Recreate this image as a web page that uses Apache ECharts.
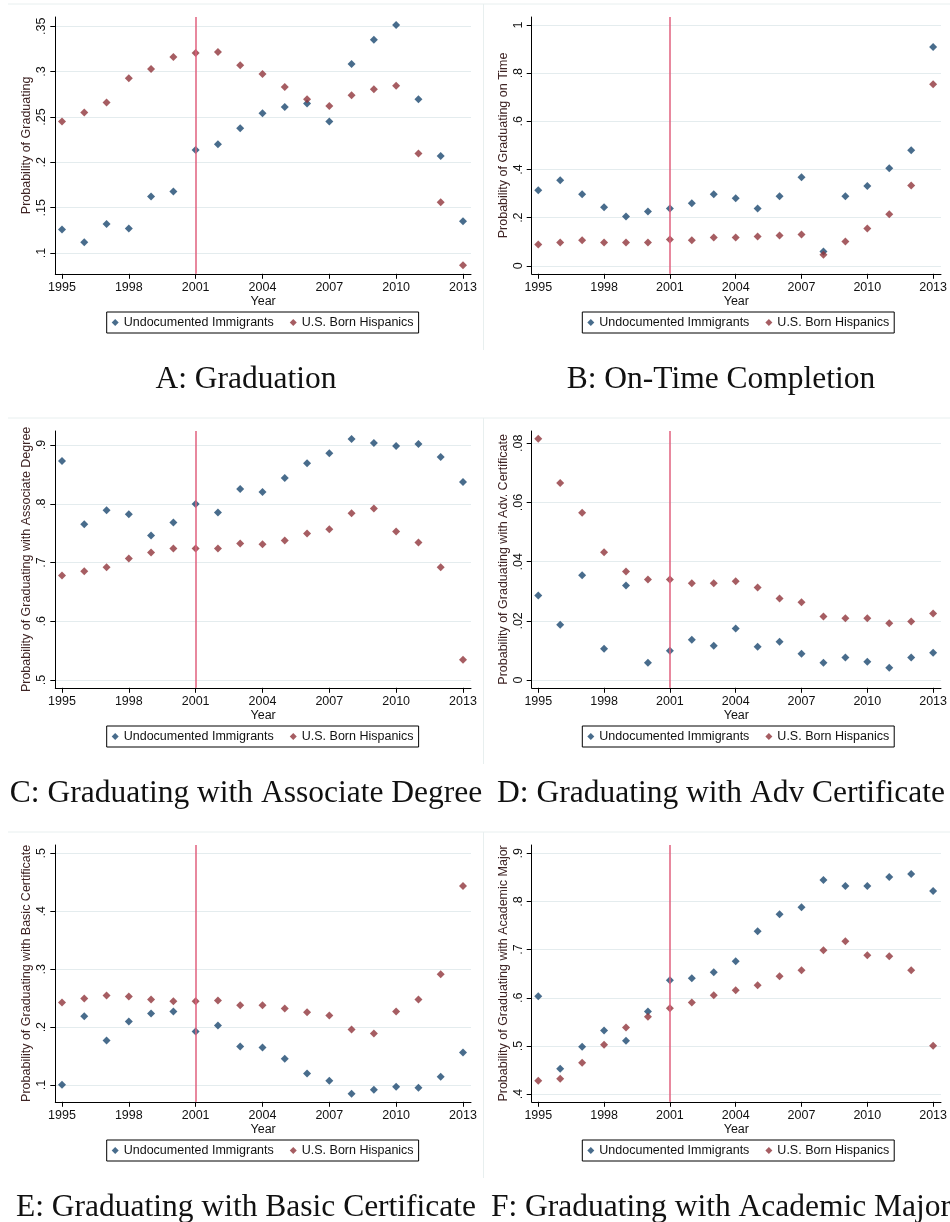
<!DOCTYPE html>
<html>
<head>
<meta charset="utf-8">
<script src="https://cdn.jsdelivr.net/npm/echarts@6/dist/echarts.min.js"></script>
<style>
  html, body { margin: 0; padding: 0; background: #fff; }
  #chart { width: 950px; height: 1222px; }
</style>
</head>
<body>
<div id="chart"></div>
<script>
// Cohort years and labelled ticks on the year axis
const years = [1995, 1996, 1997, 1998, 1999, 2000, 2001, 2002, 2003, 2004,
               2005, 2006, 2007, 2008, 2009, 2010, 2011, 2012, 2013];
const yearTicks = [1995, 1998, 2001, 2004, 2007, 2010, 2013];
const policyYear = 2001;
const seriesNames = ['Undocumented Immigrants', 'U.S. Born Hispanics'];

// A: Graduation
const gradUndoc = [0.126, 0.112, 0.132, 0.127, 0.1625, 0.168, 0.2135, 0.220, 0.2377, 0.254,
                   0.261, 0.265, 0.245, 0.3085, 0.335, 0.3515, 0.2696, 0.207, 0.135];
const gradBorn  = [0.245, 0.255, 0.266, 0.2927, 0.303, 0.316, 0.3206, 0.3217, 0.307, 0.2975,
                   0.283, 0.2696, 0.262, 0.274, 0.2806, 0.2843, 0.2098, 0.156, 0.0865];
const gradTicks = [0.1, 0.15, 0.2, 0.25, 0.3, 0.35];

// B: On-time completion
const onTimeUndoc = [0.314, 0.355, 0.297, 0.243, 0.205, 0.225, 0.238, 0.260, 0.297, 0.281,
                     0.238, 0.289, 0.368, 0.0595, 0.289, 0.331, 0.405, 0.480, 0.909];
const onTimeBorn  = [0.0885, 0.0968, 0.1065, 0.0968, 0.0968, 0.0968, 0.109, 0.1065, 0.1176, 0.1176,
                     0.1217, 0.126, 0.130, 0.0456, 0.101, 0.155, 0.2137, 0.333, 0.754];
const onTimeTicks = [0, 0.2, 0.4, 0.6, 0.8, 1];

// C: Associate degree
const assocUndoc = [0.8728, 0.765, 0.789, 0.782, 0.746, 0.768, 0.7996, 0.785, 0.825, 0.820,
                    0.844, 0.869, 0.886, 0.910, 0.9034, 0.8983, 0.9017, 0.8796, 0.837];
const assocBorn  = [0.678, 0.685, 0.692, 0.707, 0.717, 0.724, 0.724, 0.724, 0.7326, 0.731,
                    0.7377, 0.7496, 0.7565, 0.7837, 0.792, 0.753, 0.734, 0.692, 0.5346];
const assocTicks = [0.5, 0.6, 0.7, 0.8, 0.9];

// D: Advanced certificate
const advUndoc = [0.0286, 0.0187, 0.0354, 0.0106, 0.032, 0.0059, 0.0099, 0.0136, 0.0116, 0.0174,
                  0.0113, 0.0130, 0.0089, 0.0059, 0.0076, 0.0062, 0.0042, 0.0076, 0.0092];
const advBorn  = [0.0815, 0.0666, 0.0565, 0.0432, 0.0367, 0.0340, 0.0340, 0.0327, 0.0327, 0.0334,
                  0.0313, 0.0276, 0.0263, 0.0215, 0.0209, 0.0209, 0.0192, 0.0198, 0.0225];
const advTicks = [0, 0.02, 0.04, 0.06, 0.08];

// E: Basic certificate
const basicUndoc = [0.1006, 0.2186, 0.1771, 0.2099, 0.2237, 0.2272, 0.1927, 0.203, 0.1668, 0.165,
                    0.1455, 0.1201, 0.1075, 0.085, 0.092, 0.0971, 0.0954, 0.1144, 0.1564];
const basicBorn  = [0.2427, 0.2496, 0.2548, 0.2531, 0.2479, 0.2445, 0.2445, 0.2462, 0.2376, 0.2376,
                    0.2324, 0.2255, 0.2203, 0.1961, 0.1892, 0.2272, 0.2479, 0.2911, 0.4436];
const basicTicks = [0.1, 0.2, 0.3, 0.4, 0.5];

// F: Academic major
const acadUndoc = [0.6029, 0.4526, 0.4983, 0.5323, 0.5108, 0.5717, 0.6362, 0.6403, 0.6528, 0.6756,
                   0.738, 0.7733, 0.7878, 0.8446, 0.8321, 0.8321, 0.8508, 0.8571, 0.8217];
const acadBorn  = [0.4277, 0.4319, 0.4651, 0.5025, 0.5385, 0.5607, 0.578, 0.5904, 0.605, 0.6154,
                   0.6258, 0.6445, 0.6569, 0.6985, 0.7172, 0.6881, 0.686, 0.6569, 0.5004];
const acadTicks = [0.4, 0.5, 0.6, 0.7, 0.8, 0.9];

const panelTitles = [
  'A: Graduation', 'B: On-Time Completion',
  'C: Graduating with Associate Degree', 'D: Graduating with Adv Certificate',
  'E: Graduating with Basic Certificate', 'F: Graduating with Academic Major'
];
const yTitles = [
  'Probability of Graduating', 'Probability of Graduating on Time',
  'Probability of Graduating with Associate Degree', 'Probability of Graduating with Adv. Certificate',
  'Probability of Graduating with Basic Certificate', 'Probability of Graduating with Academic Major'
];

const panels = [
  { undoc: gradUndoc,   born: gradBorn,   ticks: gradTicks,   min: 0.0772,  max: 0.3602 },
  { undoc: onTimeUndoc, born: onTimeBorn, ticks: onTimeTicks, min: -0.0332, max: 1.0332 },
  { undoc: assocUndoc,  born: assocBorn,  ticks: assocTicks,  min: 0.4869,  max: 0.9238 },
  { undoc: advUndoc,    born: advBorn,    ticks: advTicks,    min: -0.0026, max: 0.08416 },
  { undoc: basicUndoc,  born: basicBorn,  ticks: basicTicks,  min: 0.0712,  max: 0.5143 },
  { undoc: acadUndoc,   born: acadBorn,   ticks: acadTicks,   min: 0.384,   max: 0.9172 }
];

// Layout of the 2 x 3 panel grid
const ROW_STEP = 414, COL_STEP = 476.4;
const PLOT_LEFT = 55.3, PLOT_TOP = 17, PLOT_W = 415.7, PLOT_H = 256.8;
const NAVY = '#1a476f', MAROON = '#90353b', VLINE = '#e0607e';
const SANS = '"Liberation Sans", Arial, sans-serif';
const SERIF = '"Liberation Serif", "Times New Roman", serif';

const fmtTick = v => {
  const s = String(Math.round(v * 1000) / 1000);
  return s.replace(/^0\./, '.').replace(/^-0\./, '-.');
};
const pairs = arr => years.map((y, i) => [y, arr[i]]);

const option = {
  backgroundColor: '#fff',
  animation: false,
  grid: [], xAxis: [], yAxis: [], series: [], legend: [], title: [],
  graphic: []
};

panels.forEach((p, i) => {
  const r = Math.floor(i / 2), c = i % 2;
  const gx = PLOT_LEFT + c * COL_STEP, gy = PLOT_TOP + r * ROW_STEP;

  option.grid.push({ left: gx, top: gy, width: PLOT_W, height: PLOT_H, containLabel: false });

  option.xAxis.push({
    type: 'value', gridIndex: i, min: 1994.7, max: 2013.36,
    name: 'Year', nameLocation: 'middle', nameGap: 18,
    nameTextStyle: { fontFamily: SANS, fontSize: 12.5, color: '#111' },
    axisLine: { show: true, onZero: false, lineStyle: { color: '#000', width: 1 } },
    axisTick: { show: true, length: 5, customValues: yearTicks, lineStyle: { color: '#000' } },
    axisLabel: { customValues: yearTicks, margin: 7, fontFamily: SANS, fontSize: 12.5, color: '#111',
                 formatter: v => String(v) },
    splitLine: { show: false }
  });

  option.yAxis.push({
    type: 'value', gridIndex: i, min: p.min, max: p.max,
    name: yTitles[i], nameLocation: 'middle', nameGap: 22, nameRotate: 90,
    nameTextStyle: { fontFamily: SANS, fontSize: 12.5, color: '#3f2424' },
    axisLine: { show: true, onZero: false, lineStyle: { color: '#000', width: 1 } },
    axisTick: { show: true, length: 5, customValues: p.ticks, lineStyle: { color: '#000' } },
    axisLabel: { customValues: p.ticks, rotate: 90, margin: 7, fontFamily: SANS, fontSize: 12.5,
                 color: '#111', formatter: fmtTick },
    splitLine: { show: true, lineStyle: { color: '#e4ecee', width: 1 } }
  });

  option.series.push({
    name: seriesNames[0], type: 'scatter', xAxisIndex: i, yAxisIndex: i,
    symbol: 'diamond', symbolSize: 8, itemStyle: { color: NAVY },
    data: pairs(p.undoc), z: 3,
    markLine: {
      silent: true, symbol: 'none', label: { show: false },
      lineStyle: { color: VLINE, width: 1.5, type: 'solid' },
      data: [{ xAxis: policyYear }]
    }
  });
  option.series.push({
    name: seriesNames[1], type: 'scatter', xAxisIndex: i, yAxisIndex: i,
    symbol: 'diamond', symbolSize: 8, itemStyle: { color: MAROON },
    data: pairs(p.born), z: 4
  });

  option.legend.push({
    data: seriesNames, left: 106.7 + c * 475.6, top: 312 + r * ROW_STEP,
    orient: 'horizontal', icon: 'diamond', itemWidth: 7, itemHeight: 7, itemGap: 16,
    padding: [4, 5], borderColor: '#000', borderWidth: 1, borderRadius: 0,
    selectedMode: false,
    textStyle: { fontFamily: SANS, fontSize: 12.5, color: '#111' }
  });

  option.title.push({
    text: panelTitles[i], left: c === 0 ? 246 : 721, top: 362 + r * ROW_STEP,
    textAlign: 'center', padding: 0,
    textStyle: { fontFamily: SERIF, fontSize: 31.5, fontWeight: 'normal', color: '#111', lineHeight: 36 }
  });

  // faint outline of each row's graph region
  if (c === 0) {
    const top = 4 + r * ROW_STEP;
    option.graphic.push({
      type: 'line', silent: true, z: -1,
      shape: { x1: 8, y1: top, x2: 950, y2: top },
      style: { stroke: '#e8efef', lineWidth: 1 }
    });
    option.graphic.push({
      type: 'line', silent: true, z: -1,
      shape: { x1: 483.5, y1: top, x2: 483.5, y2: top + 346 },
      style: { stroke: '#e8efef', lineWidth: 1 }
    });
  }
});

const chart = echarts.init(document.getElementById('chart'), null, { renderer: 'canvas' });
chart.setOption(option);
</script>
</body>
</html>
